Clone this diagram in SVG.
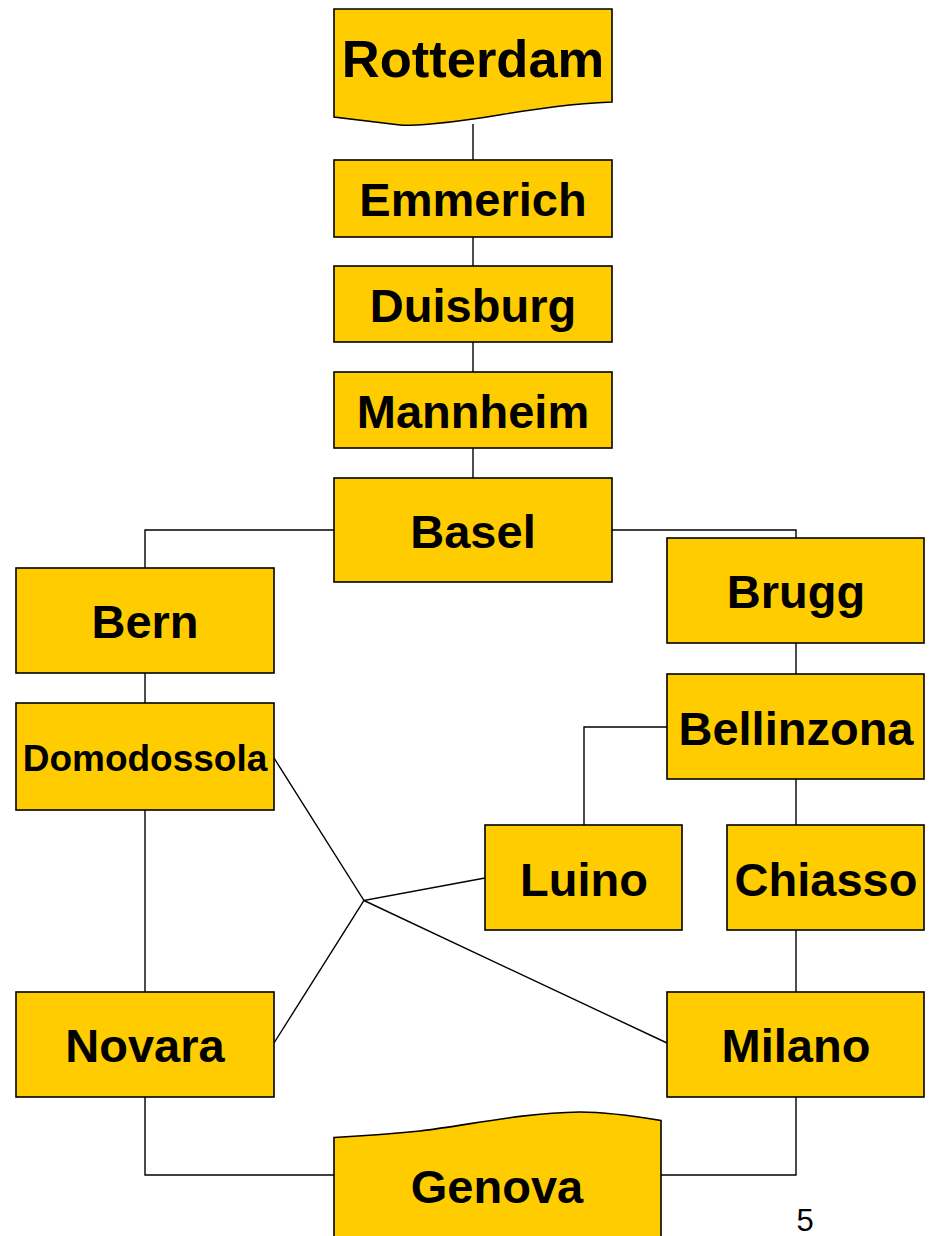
<svg xmlns="http://www.w3.org/2000/svg" width="934" height="1236" viewBox="0 0 934 1236">
<style>
.box{fill:#FFCC00;stroke:#000;stroke-width:1.6}
.lbl{font-family:"Liberation Sans",Arial,sans-serif;font-weight:bold;font-size:47px;fill:#000;text-anchor:middle}
.ln{fill:none;stroke:#000;stroke-width:1.4}
</style>
<rect width="934" height="1236" fill="#fff"/>
<g id="connectors">
<path class="ln" d="M473,124 V160"/>
<path class="ln" d="M473,237 V266"/>
<path class="ln" d="M473,342 V372"/>
<path class="ln" d="M473,448 V478"/>
<path class="ln" d="M334,530 H145 V568"/>
<path class="ln" d="M612,530 H796 V538"/>
<path class="ln" d="M145,673 V703"/>
<path class="ln" d="M796,643 V674"/>
<path class="ln" d="M667,727 H584 V825"/>
<path class="ln" d="M796,779 V825"/>
<path class="ln" d="M145,810 V992"/>
<path class="ln" d="M796,930 V992"/>
<path class="ln" d="M274,758 L364,900.5 L485,878"/>
<path class="ln" d="M274,1043 L364,900.5 L667,1043"/>
<path class="ln" d="M145,1097 V1175 H334"/>
<path class="ln" d="M796,1097 V1175 H661"/>
</g>
<g id="rotterdam">
<path class="box" d="M334,9 H612 V102 C560,104 520,112 473,119 C440,124 410,126 400,125 L334,117 Z"/>
<text class="lbl" x="473" y="77" style="font-size:52.5px">Rotterdam</text>
</g>
<g id="emmerich">
<rect class="box" x="334" y="160" width="278" height="77"/>
<text class="lbl" x="473" y="216">Emmerich</text>
</g>
<g id="duisburg">
<rect class="box" x="334" y="266" width="278" height="76"/>
<text class="lbl" x="473" y="322">Duisburg</text>
</g>
<g id="mannheim">
<rect class="box" x="334" y="372" width="278" height="76"/>
<text class="lbl" x="473" y="428">Mannheim</text>
</g>
<g id="basel">
<rect class="box" x="334" y="478" width="278" height="104"/>
<text class="lbl" x="473" y="548">Basel</text>
</g>
<g id="bern">
<rect class="box" x="16" y="568" width="258" height="105"/>
<text class="lbl" x="145" y="638">Bern</text>
</g>
<g id="brugg">
<rect class="box" x="667" y="538" width="257" height="105"/>
<text class="lbl" x="796" y="608">Brugg</text>
</g>
<g id="domodossola">
<rect class="box" x="16" y="703" width="258" height="107"/>
<text class="lbl" x="145" y="771" style="font-size:37px">Domodossola</text>
</g>
<g id="bellinzona">
<rect class="box" x="667" y="674" width="257" height="105"/>
<text class="lbl" x="796" y="745">Bellinzona</text>
</g>
<g id="luino">
<rect class="box" x="485" y="825" width="197" height="105"/>
<text class="lbl" x="584" y="896">Luino</text>
</g>
<g id="chiasso">
<rect class="box" x="727" y="825" width="197" height="105"/>
<text class="lbl" x="826" y="896">Chiasso</text>
</g>
<g id="novara">
<rect class="box" x="16" y="992" width="258" height="105"/>
<text class="lbl" x="145" y="1062">Novara</text>
</g>
<g id="milano">
<rect class="box" x="667" y="992" width="257" height="105"/>
<text class="lbl" x="796" y="1062">Milano</text>
</g>
<g id="genova">
<path class="box" d="M334,1240 V1137.5 C360,1136 390,1134 420,1131 C470,1125 520,1113 580,1112 C610,1112 640,1117 661,1120.5 V1240 Z"/>
<text class="lbl" x="497" y="1203">Genova</text>
</g>
<text x="805" y="1231" style="font-family:'Liberation Sans',Arial,sans-serif;font-size:31px;text-anchor:middle">5</text>
</svg>
